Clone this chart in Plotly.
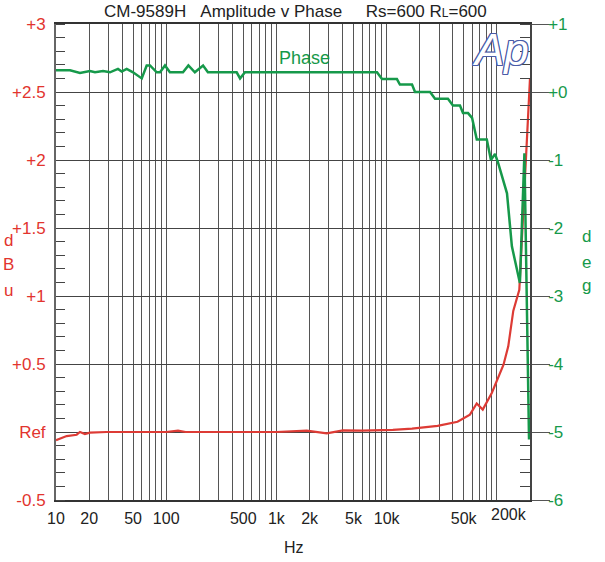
import math
import plotly.graph_objects as go

# ---------------- data ----------------
amp_freq_hz = [10, 12.5, 15.4, 16.5, 18.3, 20.3, 28.8, 50, 100, 128, 150, 500, 1000,
               1884, 2320, 2860, 4020, 6000, 11400, 17000, 29000, 44000, 57000,
               65700, 74500, 90000, 115000, 127000, 141000, 160000, 200000]
amp_dbu = [-0.06, -0.03, -0.02, 0.0, -0.015, -0.005, 0.0, 0.0, 0.0, 0.01, 0.0, 0.0, 0.0,
           0.01, 0.0, -0.01, 0.012, 0.01, 0.015, 0.025, 0.045, 0.075, 0.128,
           0.21, 0.165, 0.287, 0.495, 0.63, 0.89, 1.046, 2.6]

phase_freq_hz = [10, 13.4, 16.5, 20.3, 22.6, 26.7, 30.9, 36.5, 39.5, 43.8, 50, 60, 66.5,
                 71.3, 82, 87.9, 97.5, 108, 142, 159, 182, 216, 239, 436, 468, 519,
                 8180, 9080, 12400, 13200, 17000, 18100, 24800, 27500, 36000, 40000,
                 46300, 49300, 54800, 59600, 65800, 81100, 88400, 96300, 102600,
                 123700, 137000, 162000, 178000, 196000]
phase_deg = [0.32, 0.32, 0.28, 0.31, 0.29, 0.31, 0.29, 0.34, 0.30, 0.34, 0.29, 0.20, 0.39,
             0.39, 0.29, 0.29, 0.39, 0.29, 0.29, 0.39, 0.29, 0.39, 0.29, 0.29, 0.20, 0.29,
             0.29, 0.19, 0.19, 0.11, 0.11, 0.0, 0.0, -0.10, -0.10, -0.20,
             -0.20, -0.31, -0.31, -0.38, -0.70, -0.70, -1.0, -0.91, -1.04,
             -1.49, -2.27, -2.81, -0.90, -5.11]

x_label_vals = [10, 20, 50, 100, 500, 1000, 2000, 5000, 10000, 50000]
x_label_text = ["10", "20", "50", "100", "500", "1k", "2k", "5k", "10k", "50k"]
x_last_label = "200k"

db_tick_vals = [-0.5, 0, 0.5, 1, 1.5, 2, 2.5, 3]
db_tick_text = ["-0.5", "Ref", "+0.5", "+1", "+1.5", "+2", "+2.5", "+3"]
deg_tick_vals = [-6, -5, -4, -3, -2, -1, 0, 1]
deg_tick_text = ["-6", "-5", "-4", "-3", "-2", "-1", "+0", "+1"]

X_MIN, X_MAX = 10, 200000

# vertical grid positions: 1..9 x each decade
grid_vals = []
dec = 10
while dec <= X_MAX:
    for m in range(1, 10):
        v = m * dec
        if v <= X_MAX:
            grid_vals.append(v)
    dec *= 10
grid_text = [x_label_text[x_label_vals.index(v)] if v in x_label_vals else "" for v in grid_vals]

RED = "#e2342e"
GREEN = "#16994a"
FONT = "Liberation Sans, Arial, sans-serif"

fig = go.Figure()
fig.add_trace(go.Scatter(x=amp_freq_hz, y=amp_dbu, mode="lines",
                         line=dict(color="#dd3b35", width=2.2), yaxis="y", name="Amplitude"))
fig.add_trace(go.Scatter(x=phase_freq_hz, y=phase_deg, mode="lines",
                         line=dict(color=GREEN, width=2.5), yaxis="y2", name="Phase"))

fig.update_layout(
    width=605, height=562,
    margin=dict(l=56, r=75, t=24, b=62, autoexpand=False),
    paper_bgcolor="white", plot_bgcolor="white",
    showlegend=False,
    font=dict(family=FONT, size=16, color="#222"),
    xaxis=dict(type="log", range=[math.log10(X_MIN), math.log10(X_MAX)],
               tickmode="array", tickvals=grid_vals, ticktext=grid_text,
               showgrid=True, gridcolor="#555", gridwidth=1,
               showline=True, linecolor="#333", linewidth=1.5, mirror=True,
               ticks="", tickfont=dict(size=16, color="#222"), ticklabelstandoff=3,
               zeroline=False),
    yaxis=dict(range=[-0.5, 3], tickmode="array", tickvals=db_tick_vals, ticktext=db_tick_text,
               tickfont=dict(size=17, color=RED), showgrid=True, gridcolor="#444", gridwidth=1,
               showline=True, linecolor="#666", linewidth=2, ticks="", zeroline=False,
               ticklabelstandoff=5,
               minor=dict(dtick=0.1, tick0=0, ticks="inside", ticklen=9, tickcolor="#444",
                          tickwidth=1, showgrid=False)),
    yaxis2=dict(range=[-6, 1], overlaying="y", side="right", anchor="x",
                tickmode="array", tickvals=deg_tick_vals, ticktext=deg_tick_text,
                tickfont=dict(size=17, color=GREEN), showgrid=False,
                showline=True, linecolor="#444", linewidth=1.5,
                ticks="outside", ticklen=18, tickcolor="#555", tickwidth=1, zeroline=False,
                ticklabelstandoff=-5,
                minor=dict(dtick=0.2, tick0=0, ticks="inside", ticklen=10, tickcolor="#444",
                           tickwidth=1, showgrid=False)),
)

ann = []
ann.append(dict(text="CM-9589H&#160;&#160;&#160;Amplitude v Phase&#160;&#160;&#160;&#160;&#160;Rs=600 R<span style='font-size:12px'>L</span>=600",
                xref="paper", yref="paper", x=0.506, y=1.026, xanchor="center", yanchor="middle",
                showarrow=False, font=dict(size=17, color="#222")))
ann.append(dict(text="Phase", xref="paper", yref="paper", x=0.525, y=0.929,
                xanchor="center", yanchor="middle", showarrow=False,
                font=dict(size=18, color=GREEN)))
ann.append(dict(text="Hz", xref="paper", yref="paper", x=0.502, y=-0.0997,
                xanchor="center", yanchor="middle", showarrow=False,
                font=dict(size=16, color="#222")))
ann.append(dict(text=x_last_label, xref="x", yref="paper", x=math.log10(X_MAX), y=-0.008,
                xanchor="right", yanchor="top", xshift=-1, showarrow=False,
                font=dict(size=16, color="#222")))
for ch, yy in zip(["d", "B", "u"], [0.546, 0.495, 0.441]):
    ann.append(dict(text=ch, xref="paper", yref="paper", x=-0.10, y=yy, xanchor="center",
                    yanchor="middle", showarrow=False, font=dict(size=17, color=RED)))
for ch, yy in zip(["d", "e", "g"], [0.553, 0.500, 0.450]):
    ann.append(dict(text=ch, xref="paper", yref="paper", x=1.12, y=yy, xanchor="center",
                    yanchor="middle", showarrow=False, font=dict(size=17, color=GREEN)))
outline = "#4a5ca8"
ann.append(dict(text="Ap", xref="paper", yref="paper", x=0.937, y=0.946,
                xanchor="center", yanchor="middle", showarrow=False,
                font=dict(size=44, color="white", style="italic", family=FONT,
                          shadow=(f"1px 0 0 {outline}, -1px 0 0 {outline}, 0 1px 0 {outline}, "
                                  f"0 -1px 0 {outline}, 1px 1px 0 {outline}, -1px -1px 0 {outline}, "
                                  f"1px -1px 0 {outline}, -1px 1px 0 {outline}"))))
fig.update_layout(annotations=ann)

fig.write_html("out.html", config={"displayModeBar": False},
               post_script="document.body.style.margin='0';document.body.style.overflow='hidden';")
